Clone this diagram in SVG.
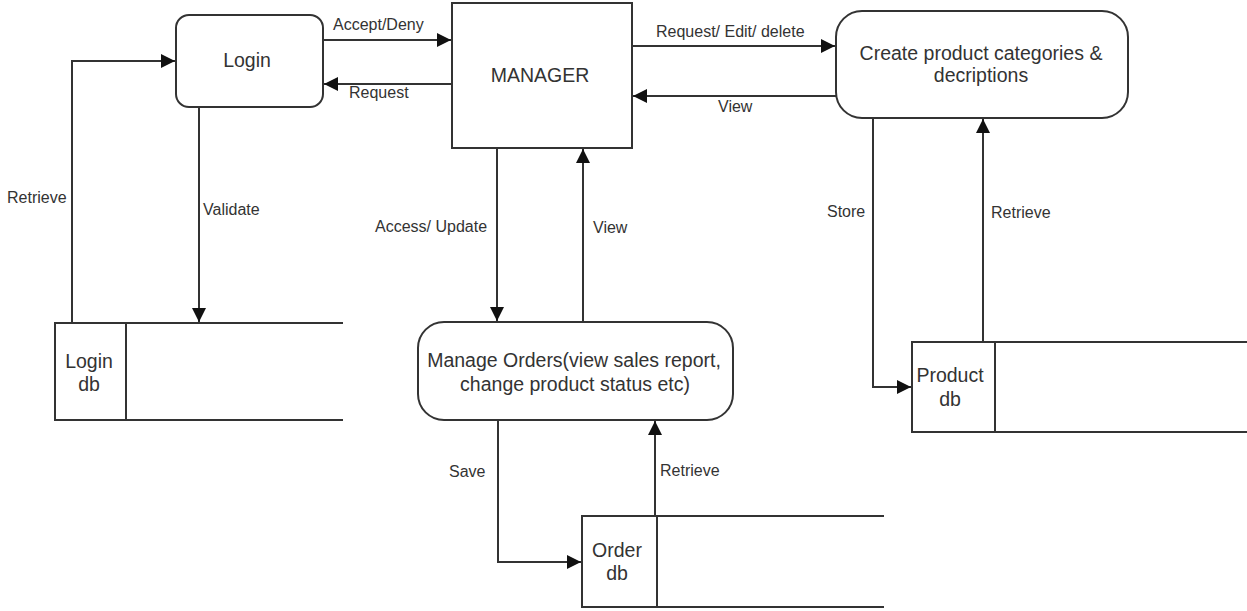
<svg xmlns="http://www.w3.org/2000/svg" width="1247" height="611" viewBox="0 0 1247 611">
<style>
.box{fill:#fff;stroke:#333;stroke-width:2}
.ln{fill:none;stroke:#333;stroke-width:2}
.nt{font-family:"Liberation Sans",Arial,sans-serif;font-size:19.5px;fill:#333;text-anchor:middle}
.lb{font-family:"Liberation Sans",Arial,sans-serif;font-size:16px;fill:#333}
.fl{fill:none;stroke:#333;stroke-width:2;marker-end:url(#ah)}
</style>
<defs>
<marker id="ah" markerUnits="userSpaceOnUse" markerWidth="15" markerHeight="14" refX="14" refY="7" orient="auto">
<path d="M0,0 L14,7 L0,14 Z" fill="#111"/>
</marker>
</defs>
<rect width="1247" height="611" fill="#fff"/>
<g id="connectors">
<path class="fl" d="M323,40 H451"/>
<path class="fl" d="M452,84 H324"/>
<path class="fl" d="M632,46 H835"/>
<path class="fl" d="M836,96 H633"/>
<path class="fl" d="M72,323 V61 H175"/>
<path class="fl" d="M199,107 V322"/>
<path class="fl" d="M497,148 V321"/>
<path class="fl" d="M583,322 V149"/>
<path class="fl" d="M873,118 V387 H911"/>
<path class="fl" d="M983,342 V119"/>
<path class="fl" d="M498,420 V562 H581"/>
<path class="fl" d="M655,516 V421"/>
<text class="lb" x="333" y="30">Accept/Deny</text>
<text class="lb" x="349" y="98">Request</text>
<text class="lb" x="656" y="37">Request/ Edit/ delete</text>
<text class="lb" x="718" y="112">View</text>
<text class="lb" x="7" y="203">Retrieve</text>
<text class="lb" x="203" y="215">Validate</text>
<text class="lb" x="375" y="232">Access/ Update</text>
<text class="lb" x="593" y="233">View</text>
<text class="lb" x="827" y="217">Store</text>
<text class="lb" x="991" y="218">Retrieve</text>
<text class="lb" x="449" y="477">Save</text>
<text class="lb" x="660" y="476">Retrieve</text>
</g>
<g id="login">
<rect class="box" x="176" y="15" width="147" height="92" rx="13"/>
<text class="nt" x="247" y="67">Login</text>
</g>
<g id="manager">
<rect class="box" x="452" y="3" width="180" height="145"/>
<text class="nt" x="540" y="82">MANAGER</text>
</g>
<g id="create-product">
<rect class="box" x="836" y="11" width="292" height="107" rx="26"/>
<text class="nt" x="981" y="60">Create product categories &amp;</text>
<text class="nt" x="981" y="82">decriptions</text>
</g>
<g id="manage-orders">
<rect class="box" x="418" y="322" width="315" height="98" rx="26"/>
<text class="nt" x="574" y="367">Manage Orders(view sales report,</text>
<text class="nt" x="575" y="391">change product status etc)</text>
</g>
<g id="login-db">
<path class="ln" d="M343,323 H55 V420 H343 M126,323 V420"/>
<text class="nt" x="89" y="368">Login</text>
<text class="nt" x="89" y="391">db</text>
</g>
<g id="product-db">
<path class="ln" d="M1247,342 H912 V432 H1247 M995,342 V432"/>
<text class="nt" x="950" y="382">Product</text>
<text class="nt" x="950" y="406">db</text>
</g>
<g id="order-db">
<path class="ln" d="M884,516 H582 V607 H884 M657,516 V607"/>
<text class="nt" x="617" y="557">Order</text>
<text class="nt" x="617" y="580">db</text>
</g>
</svg>
